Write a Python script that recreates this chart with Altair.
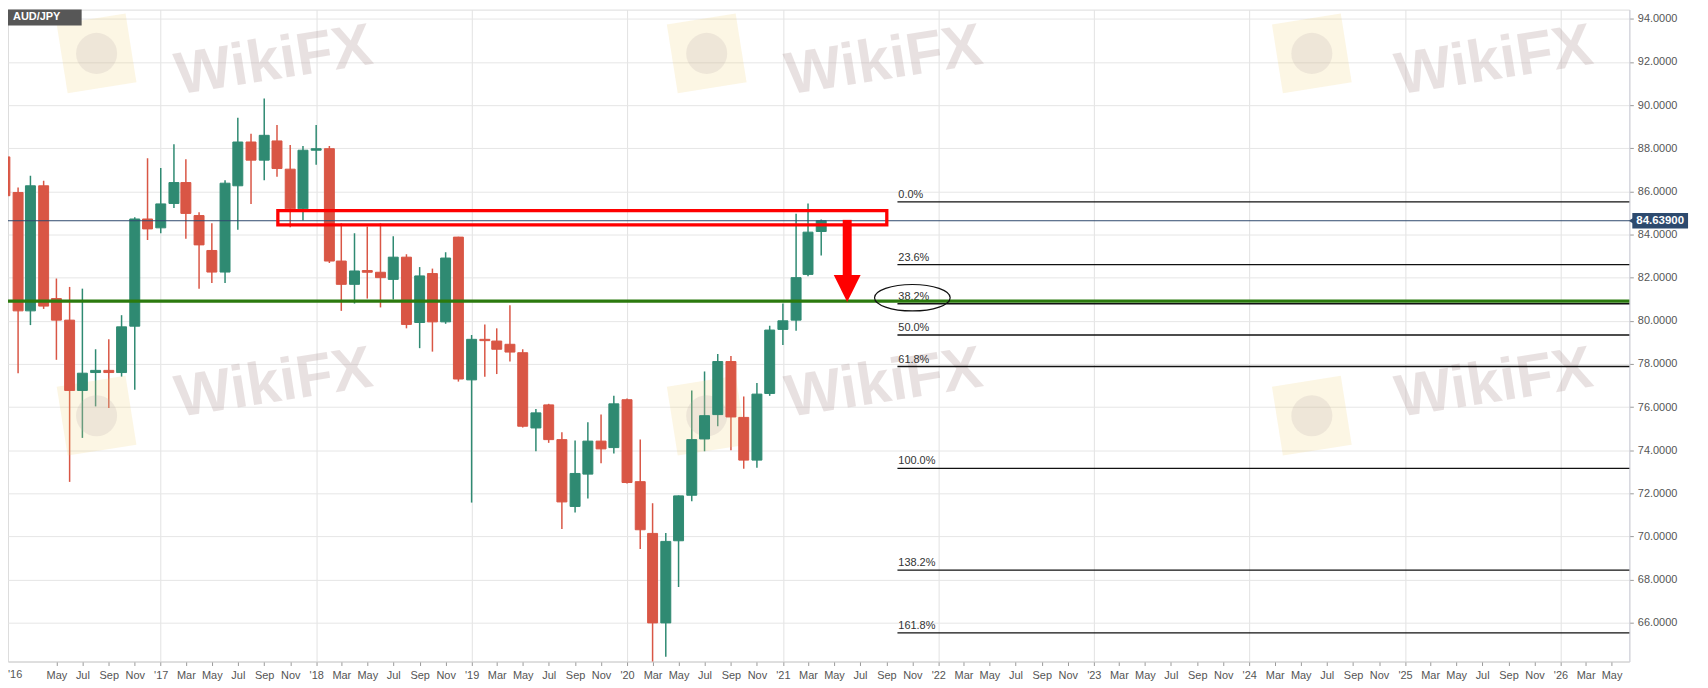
import altair as alt
import pandas as pd

# ---------------- data (monthly AUD/JPY candles, Jan 2016 .. Apr 2021) ----------------
months = []
for yr in range(2016, 2022):
    for mo in range(1, 13):
        months.append(f"{yr}-{mo:02d}-01T00:00:00")
months = months[:64]

opens = [87.60, 85.95, 80.46, 86.26, 81.03, 80.03, 76.77, 77.60, 77.70, 77.60, 79.75, 84.72,
         84.31, 85.44, 86.41, 84.88, 83.26, 82.26, 86.26, 88.29, 87.45, 88.34, 87.03, 85.19,
         87.91, 87.98, 82.77, 81.69, 82.33, 82.25, 81.92, 82.95, 79.92, 82.19, 79.95, 83.88,
         77.26, 79.14, 79.06, 78.91, 78.52, 75.03, 76.10, 74.49, 71.39, 72.89, 74.42, 74.12,
         76.34, 72.54, 70.14, 65.99, 69.80, 71.91, 74.52, 75.65, 78.11, 75.52, 73.54, 76.63,
         79.60, 80.03, 82.15, 84.14]
highs = [88.00, 86.18, 86.72, 86.49, 81.96, 81.57, 81.49, 78.68, 79.14, 80.26, 84.80, 87.54,
         87.08, 88.19, 87.49, 85.03, 84.52, 86.52, 89.41, 88.67, 90.31, 89.08, 88.15, 88.11,
         89.08, 88.11, 84.52, 84.06, 84.37, 84.52, 83.92, 83.08, 82.49, 82.42, 83.18, 83.90,
         79.34, 79.83, 79.65, 80.72, 78.68, 75.91, 76.15, 74.83, 74.45, 75.29, 75.65, 76.52,
         76.40, 74.49, 71.54, 70.16, 71.90, 76.77, 77.65, 78.46, 78.37, 76.49, 77.11, 79.77,
         80.80, 84.96, 85.44, 84.70]
lows = [79.30, 77.57, 79.80, 80.55, 78.19, 72.53, 74.57, 76.03, 75.96, 77.41, 76.80, 83.75,
        84.06, 85.23, 83.80, 81.49, 81.75, 81.75, 84.22, 85.42, 86.52, 86.68, 84.34, 84.65,
        87.23, 82.68, 80.46, 80.80, 81.03, 80.62, 80.99, 79.65, 78.73, 78.57, 79.86, 77.18,
        71.57, 77.41, 77.53, 78.11, 75.05, 73.95, 74.34, 70.34, 71.11, 71.76, 73.39, 73.85,
        72.45, 69.42, 59.90, 64.42, 67.65, 71.63, 73.95, 75.11, 74.00, 73.14, 73.19, 76.52,
        78.88, 79.54, 82.06, 83.03]
closes = [85.80, 80.46, 86.26, 80.68, 80.03, 76.77, 77.57, 77.70, 77.60, 79.72, 84.72, 84.26,
          85.42, 86.41, 84.98, 83.52, 82.26, 86.38, 88.29, 87.45, 88.60, 87.06, 85.19, 87.91,
          87.98, 82.77, 81.69, 82.31, 82.25, 82.00, 82.95, 79.83, 82.08, 79.95, 82.91, 77.30,
          79.14, 79.08, 78.68, 78.55, 75.11, 75.73, 74.49, 71.60, 72.92, 74.42, 74.06, 76.15,
          72.50, 70.31, 65.99, 69.77, 71.88, 74.49, 75.60, 78.11, 75.54, 73.54, 76.60, 79.57,
          80.00, 82.00, 84.11, 84.639]

fib_labels = ["0.0%", "23.6%", "38.2%", "50.0%", "61.8%", "100.0%", "138.2%", "161.8%"]
fib_levels = [85.51, 82.60, 80.79, 79.34, 77.88, 73.16, 68.44, 65.53]
fib_start = "2021-09-27T00:00:00"
fib_text_start = "2021-09-29T00:00:00"
fib_end = "2026-12-31T00:00:00"

green_level = 80.91
last_price = 84.639
last_price_text = "84.63900"

zone_top, zone_bottom = 85.11, 84.45
zone_start, zone_end = "2017-10-03T00:00:00", "2021-09-02T00:00:00"

arrow_date = "2021-06-01T00:00:00"
arrow_top, arrow_shaft_bottom, arrow_head_center = 84.68, 81.8, 81.50

ellipse_date = "2021-11-01T00:00:00"
ellipse_level = 81.07

y_ticks = [66, 68, 70, 72, 74, 76, 78, 80, 82, 84, 86, 88, 90, 92, 94]
x_ticks = []
for yr in range(2016, 2027):
    for mo in (1, 3, 5, 7, 9, 11):
        if (yr, mo) == (2016, 3) or (yr == 2026 and mo > 5):
            continue
        x_ticks.append(alt.DateTime(year=yr, month=mo, date=1))

# ---------------- styling ----------------
W, H = 1629, 655
GREEN = "#2f8a72"
RED = "#d95645"
FONT = "Liberation Sans"

df = pd.DataFrame({"date": months, "open": opens, "high": highs, "low": lows, "close": closes})
df["dir"] = ["up" if c >= o else "down" for o, c in zip(opens, closes)]

xs = alt.Scale(domain=[alt.DateTime(year=2016, month=1, date=20),
                       alt.DateTime(year=2026, month=5, date=31)])
ys = alt.Scale(domain=[64.20, 94.43], zero=False, nice=False)

x_axis = alt.Axis(
    values=x_ticks,
    labelExpr="month(datum.value) == 0 ? \"'\" + timeFormat(datum.value, '%y') : timeFormat(datum.value, '%b')",
    grid=True,
    gridColor="#e2e2e2",
    gridOpacity={"condition": {"test": "month(datum.value) == 0", "value": 1}, "value": 0},
    tickSize=4, tickColor="#9a9a9a", domainColor="#d0d0d0",
    labelColor="#555555", labelFontSize=11, labelFont=FONT, labelPadding=4,
    labelOverlap=False, labelFlush=False, title=None,
)
y_axis = alt.Axis(
    orient="right", values=y_ticks, format=".4f", grid=True, gridColor="#e6e6e6",
    tickSize=4, tickColor="#9a9a9a", domainColor="#cfd0da",
    labelColor="#555555", labelFontSize=11, labelFont=FONT, labelPadding=4, title=None,
)


def X(field):
    return alt.X(field, scale=xs, axis=x_axis)


def Y(field):
    return alt.Y(field, scale=ys, axis=y_axis)


color = alt.Color("dir:N", scale=alt.Scale(domain=["up", "down"], range=[GREEN, RED]), legend=None)
stroke = alt.Stroke("dir:N", scale=alt.Scale(domain=["up", "down"], range=[GREEN, RED]), legend=None)

one = pd.DataFrame({"k": [0]})

# ---------------- watermarks ----------------
wm_layers = []
for cx in (267, 880, 1493):
    for cy in (52, 376):
        wm_layers.append(
            alt.Chart(one).mark_text(text="WikiFX", fontSize=60, fontWeight="bold", font=FONT,
                                     color="#a88c8c", opacity=0.25, angle=351,
                                     align="center", baseline="middle")
            .encode(x=alt.value(cx), y=alt.value(cy))
        )
for lx in (89, 702, 1310):
    for ly in (44, 408):
        wm_layers.append(
            alt.Chart(one).mark_point(shape="square", filled=True, size=4900, color="#f2d276",
                                      opacity=0.2, angle=351)
            .encode(x=alt.value(lx), y=alt.value(ly))
        )
        wm_layers.append(
            alt.Chart(one).mark_point(shape="circle", filled=True, size=1700, color="#b9a9a9",
                                      opacity=0.2)
            .encode(x=alt.value(lx), y=alt.value(ly))
        )

# ---------------- candles ----------------
base = alt.Chart(df)
wicks = base.mark_rule(strokeWidth=1.5, clip=True).encode(
    x=X("date:T"), y=Y("low:Q"), y2="high:Q", color=color)
bodies = base.mark_bar(size=10, clip=True, strokeWidth=1).encode(
    x=X("date:T"), y=Y("open:Q"), y2="close:Q", color=color, stroke=stroke)

# ---------------- horizontal lines ----------------
green_line = alt.Chart(pd.DataFrame({"p": [green_level]})).mark_rule(
    color="#2b7a0e", strokeWidth=3.3).encode(
    y=Y("p:Q"), x=alt.value(0), x2=alt.value(W))

price_line = alt.Chart(pd.DataFrame({"p": [last_price]})).mark_rule(
    color="#2f4a6e", strokeWidth=1).encode(
    y=Y("p:Q"), x=alt.value(0), x2=alt.value(W))

fib_df = pd.DataFrame({"level": fib_levels, "label": fib_labels,
                       "start": [fib_start] * len(fib_levels),
                       "tstart": [fib_text_start] * len(fib_levels),
                       "end": [fib_end] * len(fib_levels)})
fib_lines = alt.Chart(fib_df).mark_rule(color="#111111", strokeWidth=1.3, clip=True).encode(
    x=X("start:T"), x2="end:T", y=Y("level:Q"))
fib_text = alt.Chart(fib_df).mark_text(align="left", baseline="bottom", dy=-2, fontSize=11,
                                       font=FONT, color="#333333").encode(
    x=X("tstart:T"), y=Y("level:Q"), text="label:N")

# ---------------- annotations ----------------
zone = alt.Chart(pd.DataFrame({"x1": [zone_start], "x2": [zone_end],
                               "y1": [zone_top], "y2": [zone_bottom]})).mark_rect(
    fillOpacity=0, stroke="#ff0000", strokeWidth=3.3).encode(
    x=X("x1:T"), x2="x2:T", y=Y("y1:Q"), y2="y2:Q")

arrow_shaft = alt.Chart(pd.DataFrame({"d": [arrow_date], "a": [arrow_top], "b": [arrow_shaft_bottom]})).mark_rule(
    color="#ff0000", strokeWidth=9).encode(
    x=X("d:T"), y=Y("a:Q"), y2="b:Q")
arrow_head = alt.Chart(pd.DataFrame({"d": [arrow_date], "p": [arrow_head_center]})).mark_point(
    shape="M -1 -1 L 1 -1 L 0 1 Z", size=729, filled=True, color="#ff0000", opacity=1).encode(
    x=X("d:T"), y=Y("p:Q"))

ellipse = alt.Chart(pd.DataFrame({"d": [ellipse_date], "p": [ellipse_level]})).mark_point(
    shape="M -1 0 A 1 0.35 0 1 0 1 0 A 1 0.35 0 1 0 -1 0 Z", size=5776, filled=False,
    color="#111111", strokeWidth=1.2, opacity=1).encode(
    x=X("d:T"), y=Y("p:Q"))

# price label on the axis
label_df = pd.DataFrame({"p": [last_price], "t": [last_price_text],
                         "a": [last_price + 0.355], "b": [last_price - 0.355]})
price_box = alt.Chart(label_df).mark_rect(color="#2d4a6e").encode(
    x=alt.value(W + 3), x2=alt.value(W + 59), y=Y("a:Q"), y2="b:Q")
price_ptr = alt.Chart(label_df).mark_point(shape="triangle-left", filled=True, size=40,
                                           color="#2d4a6e", opacity=1).encode(
    x=alt.value(W + 2), y=Y("p:Q"))
price_txt = alt.Chart(label_df).mark_text(color="white", fontWeight="bold", fontSize=11.5,
                                          font=FONT, align="center", baseline="middle").encode(
    x=alt.value(W + 31), y=Y("p:Q"), text="t:N")

# symbol tag top-left
tag_box = alt.Chart(one).mark_rect(color="#575757").encode(
    x=alt.value(0), x2=alt.value(74), y=alt.value(0), y2=alt.value(16))
tag_txt = alt.Chart(one).mark_text(text="AUD/JPY", color="white", fontWeight="bold", fontSize=11,
                                   font=FONT, align="left", baseline="middle").encode(
    x=alt.value(5), y=alt.value(7))

# first year label (its tick sits just left of the visible area)
first_year = alt.Chart(one).mark_text(text="'16", color="#555555", fontSize=11, font=FONT,
                                      align="left", baseline="middle").encode(
    x=alt.value(0), y=alt.value(H + 14))

chart = alt.layer(
    wicks, *wm_layers, bodies, fib_lines, fib_text, green_line, price_line,
    zone, arrow_shaft, arrow_head, ellipse, price_box, price_ptr, price_txt,
    tag_box, tag_txt, first_year,
).properties(
    width=W, height=H,
    padding={"left": 0, "top": 0, "right": 71, "bottom": 25},
    autosize=alt.AutoSizeParams(type="none"),
).configure_view(
    fill="#f7f7f7", stroke="#dcdce4"
).configure(
    background="white", font=FONT
)

chart.save("out.html", embed_options={"renderer": "svg", "actions": False})
